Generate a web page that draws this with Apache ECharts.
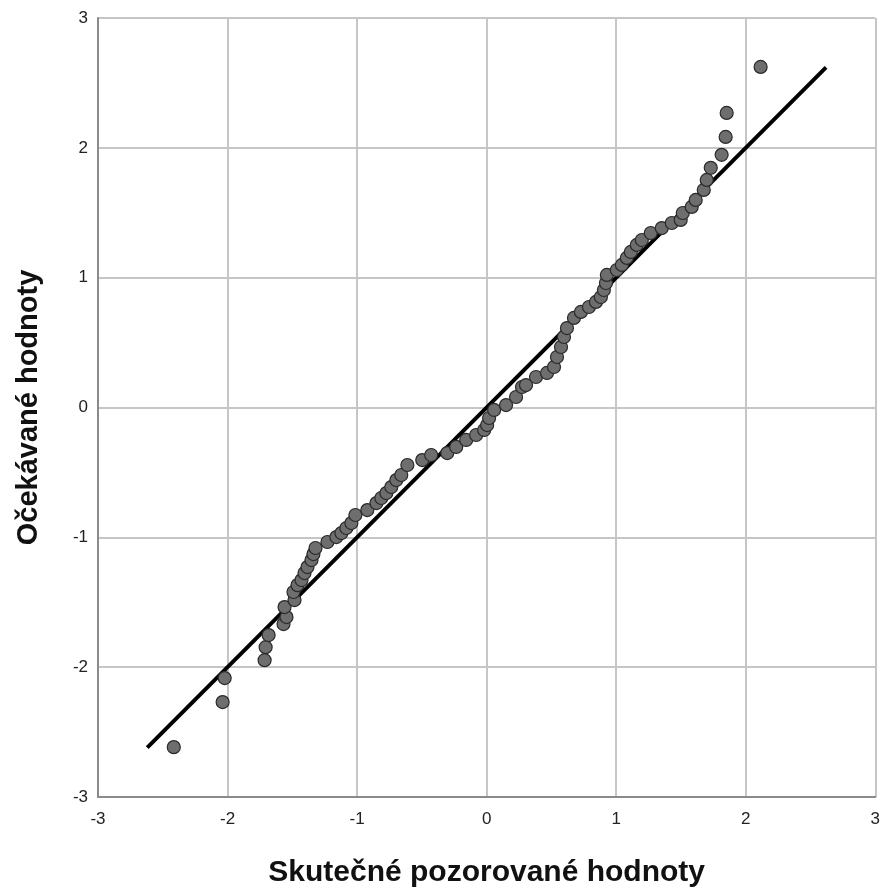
<!DOCTYPE html>
<html>
<head>
<meta charset="utf-8">
<script src="https://cdn.jsdelivr.net/npm/echarts@6/dist/echarts.min.js"></script>
<style>
html,body{margin:0;padding:0;background:#fff;}
#chart{width:883px;height:893px;}
</style>
</head>
<body>
<div id="chart"></div>
<script>
var observed = [
  -2.415,-2.038,-2.022,-1.714,-1.706,-1.683,-1.568,-1.545,-1.560,-1.483,
  -1.491,-1.460,-1.429,-1.406,-1.383,-1.352,-1.337,-1.321,-1.229,-1.160,
  -1.121,-1.083,-1.044,-1.013,-0.921,-0.851,-0.813,-0.774,-0.736,-0.697,
  -0.659,-0.612,-0.497,-0.428,-0.304,-0.235,-0.158,-0.081,-0.019,0.004,
  0.019,0.058,0.150,0.227,0.273,0.304,0.381,0.466,0.520,0.543,
  0.574,0.597,0.620,0.674,0.728,0.790,0.844,0.882,0.905,0.921,
  0.928,1.005,1.044,1.082,1.113,1.159,1.198,1.267,1.352,1.429,
  1.498,1.514,1.583,1.614,1.676,1.699,1.730,1.814,1.845,1.853,
  2.115
];
var expected = [
  -2.616,-2.269,-2.084,-1.946,-1.846,-1.753,-1.668,-1.614,-1.537,-1.483,
  -1.421,-1.368,-1.329,-1.275,-1.229,-1.175,-1.129,-1.082,-1.036,-0.998,
  -0.967,-0.928,-0.890,-0.828,-0.790,-0.736,-0.697,-0.659,-0.613,-0.559,
  -0.520,-0.443,-0.405,-0.366,-0.351,-0.304,-0.250,-0.212,-0.173,-0.135,
  -0.081,-0.019,0.019,0.081,0.158,0.173,0.235,0.266,0.312,0.389,
  0.466,0.543,0.612,0.690,0.736,0.774,0.813,0.851,0.905,0.959,
  1.021,1.059,1.098,1.152,1.198,1.252,1.290,1.344,1.382,1.421,
  1.445,1.498,1.545,1.599,1.676,1.753,1.846,1.946,2.084,2.269,
  2.623
];
// Reference line y = x endpoints
var refLineX = [-2.62, 2.62];
var refLineY = [-2.62, 2.62];
var axisMin = -3, axisMax = 3, axisStep = 1;
var xTitle = 'Skutečné pozorované hodnoty';
var yTitle = 'Očekávané hodnoty';

var points = observed.map(function(v, i){ return [v, expected[i]]; });
var linePts = refLineX.map(function(v, i){ return [v, refLineY[i]]; });

var font = 'Liberation Sans, Arial, sans-serif';
var chart = echarts.init(document.getElementById('chart'), null, {renderer:'canvas'});
function axis(name, isX){
  return {
    type:'value', min:axisMin, max:axisMax, interval:axisStep,
    name:name, nameLocation:'middle', nameGap: isX ? 61 : 55,
    nameTextStyle:{fontFamily:font, fontSize: isX ? 30 : 29, fontWeight:'bold', color:'#111'},
    axisLine:{show:true, onZero:false, lineStyle:{color:'#8a8a8a', width:2}},
    axisTick:{show:false},
    axisLabel:{fontFamily:font, fontSize:17, color:'#222', margin: isX ? 14 : 10},
    splitLine:{show:true, lineStyle:{color:'#c6c6c6', width:2}}
  };
}
chart.setOption({
  animation:false,
  backgroundColor:'#fff',
  grid:{left:98, right:6, top:18, bottom:96, containLabel:false},
  xAxis: axis(xTitle, true),
  yAxis: axis(yTitle, false),
  series:[
    {
      type:'line', data:linePts, symbol:'none', z:3,
      lineStyle:{color:'#000', width:4}
    },
    {
      type:'scatter', data:points, symbol:'circle', symbolSize:13, z:4,
      itemStyle:{color:'#6e6e6e', borderColor:'#2a2a2a', borderWidth:1.2, opacity:1}
    }
  ]
});
</script>
</body>
</html>
